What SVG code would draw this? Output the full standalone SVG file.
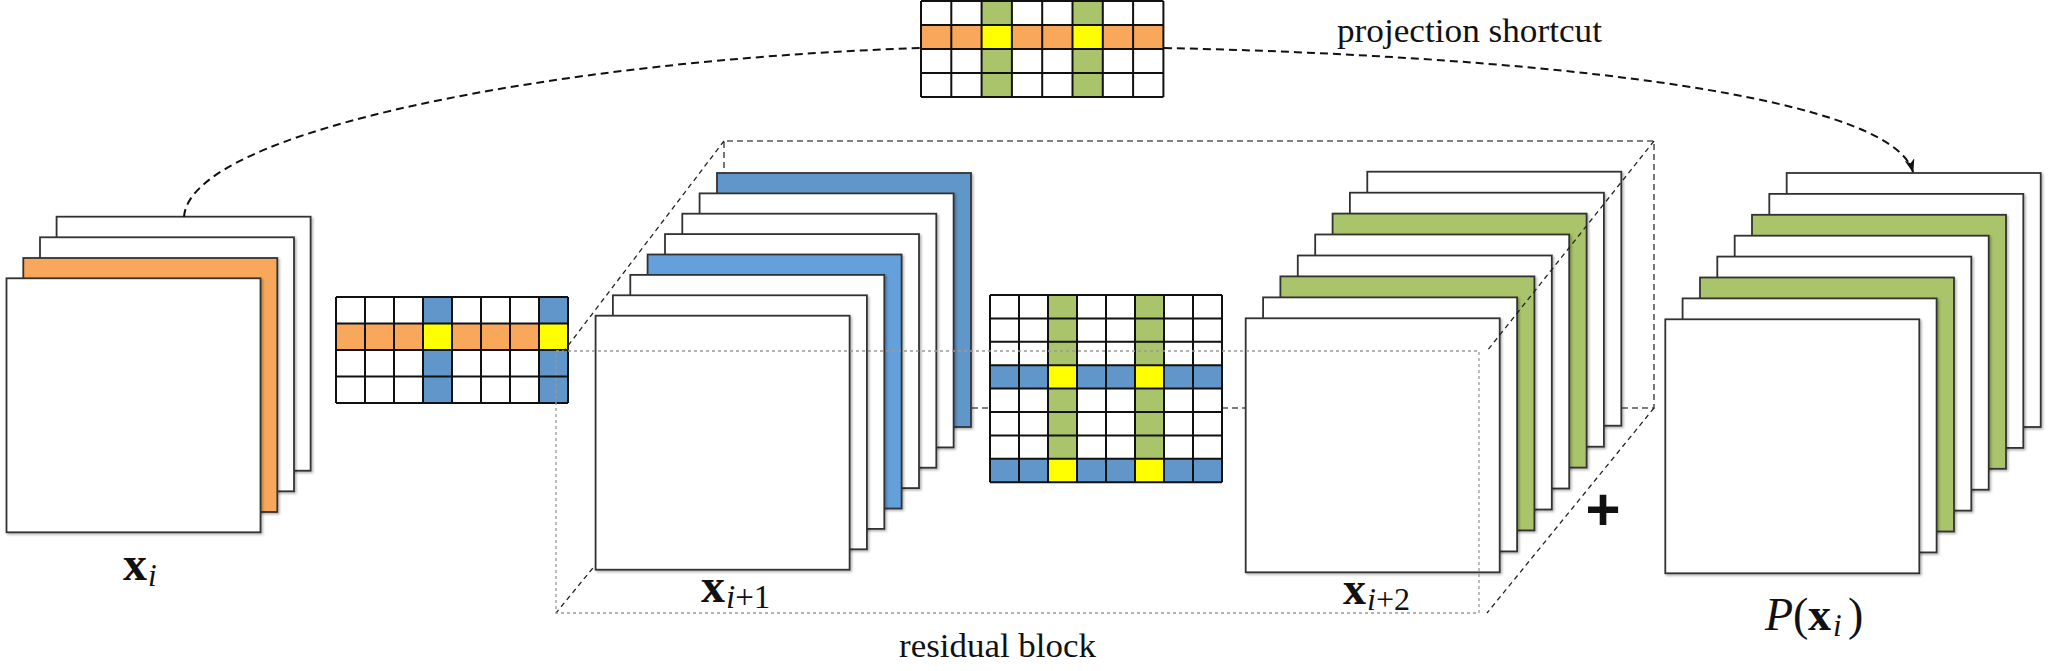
<svg xmlns="http://www.w3.org/2000/svg" width="2048" height="671" viewBox="0 0 2048 671">
<style>
.ly{stroke:#333;stroke-width:1.8;filter:url(#sh)}
.w{fill:#fff}.or{fill:#F9A75A}.gr{fill:#A9C46B}.bl{fill:#6096C9}.lb{fill:#64A0DC}.ye{fill:#FFFF00}
.gl{fill:none;stroke:#111;stroke-width:2}
.back{fill:none;stroke:#555;stroke-width:1.6;stroke-dasharray:6 4}
.diag{fill:none;stroke:#222;stroke-width:1.3;stroke-dasharray:5 4}
.front{fill:none;stroke:#999;stroke-width:1.3;stroke-dasharray:3 3}
.conn{fill:none;stroke:#111;stroke-width:2;stroke-dasharray:8 5}
.lbl{font-family:"Liberation Serif",serif;fill:#111}
</style>
<defs>
<filter id="sh" x="-5%" y="-5%" width="112%" height="112%">
<feDropShadow dx="1.5" dy="1.5" stdDeviation="1" flood-color="#000" flood-opacity="0.3"/>
</filter>
<marker id="arrow" viewBox="0 0 14 10" refX="13" refY="5" markerWidth="14" markerHeight="10" markerUnits="userSpaceOnUse" orient="auto">
<path d="M0,0 L14,5 L0,10 L4,5 z" fill="#111"/>
</marker>
</defs>

<!-- residual block: back face (behind stacks) -->
<g id="residual-block-back">
<path class="back" d="M724,408 L724,141 L1654,141 L1654,408 L724,408"/>
<path class="diag" d="M724,408 L556,613"/>
</g>

<!-- node x_i -->
<g id="node-xi">
<rect class="ly w" x="56.6" y="216.7" width="254" height="254"/>
<rect class="ly w" x="40" y="237.3" width="254" height="254"/>
<rect class="ly or" x="23.3" y="258" width="254" height="254"/>
<rect class="ly w" x="6.5" y="278.3" width="254" height="254"/>
<text class="lbl" y="580"><tspan x="123" font-weight="bold" font-size="48">x</tspan><tspan x="148" y="586" font-style="italic" font-size="31">i</tspan></text>
</g>

<!-- kernel 1 -->
<g id="node-kernel1">
<rect class="w" x="336" y="297" width="232" height="106"/>
<rect class="or" x="336" y="323.5" width="232" height="26.5"/>
<rect class="bl" x="423" y="297" width="29" height="106"/>
<rect class="bl" x="539" y="297" width="29" height="106"/>
<rect class="ye" x="423" y="323.5" width="29" height="26.5"/>
<rect class="ye" x="539" y="323.5" width="29" height="26.5"/>
<path class="gl" d="M336,297V403M365,297V403M394,297V403M423,297V403M452,297V403M481,297V403M510,297V403M539,297V403M568,297V403M336,297H568M336,323.5H568M336,350H568M336,376.5H568M336,403H568"/>
</g>

<!-- node x_{i+1} -->
<g id="node-xi1">
<rect class="ly bl" x="717" y="173" width="254" height="254"/>
<rect class="ly w" x="699.6" y="193.4" width="254" height="254"/>
<rect class="ly w" x="682.3" y="213.7" width="254" height="254"/>
<rect class="ly w" x="665" y="234.1" width="254" height="254"/>
<rect class="ly lb" x="647.6" y="254.5" width="254" height="254"/>
<rect class="ly w" x="630.3" y="274.9" width="254" height="254"/>
<rect class="ly w" x="612.9" y="295.3" width="254" height="254"/>
<rect class="ly w" x="595.6" y="315.7" width="254" height="254"/>
<text class="lbl" y="602"><tspan x="701" font-weight="bold" font-size="48">x</tspan><tspan x="726" y="608" font-size="33"><tspan font-style="italic">i</tspan>+1</tspan></text>
</g>

<!-- kernel 2 -->
<g id="node-kernel2">
<rect class="w" x="990" y="295" width="232" height="187.2"/>
<rect class="gr" x="1048" y="295" width="29" height="187.2"/>
<rect class="gr" x="1135" y="295" width="29" height="187.2"/>
<rect class="bl" x="990" y="365.2" width="232" height="23.4"/>
<rect class="bl" x="990" y="458.8" width="232" height="23.4"/>
<rect class="ye" x="1048" y="365.2" width="29" height="23.4"/>
<rect class="ye" x="1135" y="365.2" width="29" height="23.4"/>
<rect class="ye" x="1048" y="458.8" width="29" height="23.4"/>
<rect class="ye" x="1135" y="458.8" width="29" height="23.4"/>
<path class="gl" d="M990,295V482.2M1019,295V482.2M1048,295V482.2M1077,295V482.2M1106,295V482.2M1135,295V482.2M1164,295V482.2M1193,295V482.2M1222,295V482.2M990,295H1222M990,318.4H1222M990,341.8H1222M990,365.2H1222M990,388.6H1222M990,412H1222M990,435.4H1222M990,458.8H1222M990,482.2H1222"/>
</g>

<!-- node x_{i+2} -->
<g id="node-xi2">
<rect class="ly w" x="1367.3" y="171.7" width="254" height="254"/>
<rect class="ly w" x="1349.9" y="192.7" width="254" height="254"/>
<rect class="ly gr" x="1332.6" y="213.6" width="254" height="254"/>
<rect class="ly w" x="1315.2" y="234.5" width="254" height="254"/>
<rect class="ly w" x="1297.8" y="255.5" width="254" height="254"/>
<rect class="ly gr" x="1280.4" y="276.4" width="254" height="254"/>
<rect class="ly w" x="1263.1" y="297.4" width="254" height="254"/>
<rect class="ly w" x="1245.7" y="318.3" width="254" height="254"/>
<text class="lbl" y="604"><tspan x="1343" font-weight="bold" font-size="46">x</tspan><tspan x="1367" y="610" font-size="32"><tspan font-style="italic">i</tspan>+2</tspan></text>
</g>

<!-- residual block: front face and visible diagonals -->
<g id="residual-block">
<path class="front" d="M556,351 L1479,351 L1479,613 L556,613 Z"/>
<path class="diag" d="M724,141 L564,351 M1654,141 L1487,351 M1654,408 L1487,613"/>
<text class="lbl" x="899" y="657" font-size="34" textLength="197" lengthAdjust="spacingAndGlyphs">residual block</text>
<text id="plus" x="1603" y="530" font-family="Liberation Sans, sans-serif" font-weight="bold" font-size="60" text-anchor="middle" fill="#111">+</text>
</g>

<!-- node P(x_i) -->
<g id="node-pxi">
<rect class="ly w" x="1786.7" y="173" width="254" height="254"/>
<rect class="ly w" x="1769.3" y="193.9" width="254" height="254"/>
<rect class="ly gr" x="1752" y="214.8" width="254" height="254"/>
<rect class="ly w" x="1734.7" y="235.7" width="254" height="254"/>
<rect class="ly w" x="1717.3" y="256.6" width="254" height="254"/>
<rect class="ly gr" x="1700" y="277.5" width="254" height="254"/>
<rect class="ly w" x="1682.6" y="298.4" width="254" height="254"/>
<rect class="ly w" x="1665.3" y="319.3" width="254" height="254"/>
<text class="lbl" y="630" font-size="46"><tspan x="1765" font-style="italic">P</tspan><tspan x="1793">(</tspan><tspan x="1808" font-weight="bold">x</tspan><tspan x="1833" y="636" font-style="italic" font-size="31">i</tspan><tspan x="1848" y="630">)</tspan></text>
</g>

<!-- projection kernel -->
<g id="node-kernel-proj">
<rect class="w" x="921" y="1" width="242.4" height="96"/>
<rect class="or" x="921" y="25" width="242.4" height="24"/>
<rect class="gr" x="981.6" y="1" width="30.3" height="96"/>
<rect class="gr" x="1072.5" y="1" width="30.3" height="96"/>
<rect class="ye" x="981.6" y="25" width="30.3" height="24"/>
<rect class="ye" x="1072.5" y="25" width="30.3" height="24"/>
<path class="gl" d="M921,1V97M951.3,1V97M981.6,1V97M1011.9,1V97M1042.2,1V97M1072.5,1V97M1102.8,1V97M1133.1,1V97M1163.4,1V97M921,1H1163.4M921,25H1163.4M921,49H1163.4M921,73H1163.4M921,97H1163.4"/>
<text class="lbl" x="1337" y="42" font-size="34" textLength="265" lengthAdjust="spacingAndGlyphs">projection shortcut</text>
</g>

<!-- connectors -->
<g id="connectors">
<path class="conn" d="M184,217 C190,130 560,60 920,48"/>
<path class="conn" d="M1164,48 C1500,55 1890,90 1913,172" marker-end="url(#arrow)"/>
</g>
</svg>
